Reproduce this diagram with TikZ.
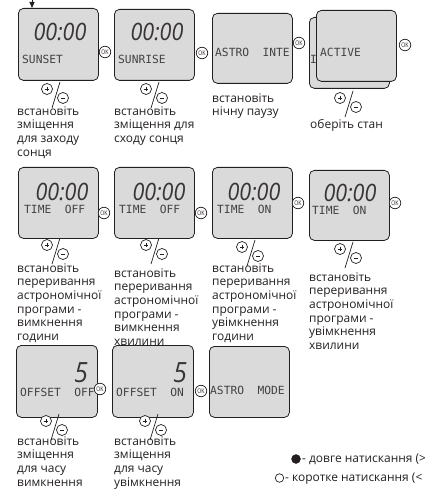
\documentclass[tikz,border=0pt]{standalone}
\usepackage{fontspec}
\setmainfont{Open Sans}
\newfontfamily\lcdfont{DejaVu Sans Mono}
\newfontfamily\clockfont[FakeStretch=0.9]{Open Sans}
\newfontfamily\okfont[FakeStretch=0.8]{Open Sans}
\usetikzlibrary{arrows.meta}
\definecolor{ink}{HTML}{231F20}
\definecolor{lcdbg}{HTML}{DADADA}
\tikzset{
  screen/.style={draw=ink, fill=lcdbg, rounded corners=5bp, line width=0.8bp,
    minimum width=80bp, minimum height=71bp, inner sep=0pt, anchor=north west},
  lcd/.style={font=\lcdfont\fontsize{11.3}{12}\selectfont, text=ink!85, inner sep=0pt, anchor=west,
    text height=8bp, text depth=0pt},
  clock/.style={font=\clockfont\itshape\fontsize{24}{24}\selectfont, text=ink!90, inner sep=0pt,
    text height=17bp, text depth=0pt},
  bigdigit/.style={font=\clockfont\itshape\fontsize{28}{28}\selectfont, text=ink!90, inner sep=0pt,
    text height=20bp, text depth=0pt},
  okbtn/.style={draw=ink, fill=white, circle, line width=0.7bp, minimum size=11.5bp, inner sep=0pt,
    font=\okfont\fontsize{6.4}{6.4}\selectfont, text=ink},
  lbl/.style={font=\fontsize{12}{13.6}\selectfont, text=ink, align=left, anchor=north west, inner sep=0pt},
  leg/.style={font=\fontsize{12}{13.6}\selectfont, text=ink, anchor=base west, inner sep=0pt},
  pmline/.style={draw=ink, line width=0.7bp},
  pm/.pic={
    \draw[pmline, fill=white] (0,0) circle (5.5);
    \draw[pmline] (-2.4,0) -- (2.4,0) (0,-2.4) -- (0,2.4);
    \draw[pmline, fill=white] (16,9) circle (5.5);
    \draw[pmline] (13.6,9) -- (18.4,9);
    \draw[pmline] (13,-7) -- (5,19);
  }
}
\begin{document}
\begin{tikzpicture}[x=1bp,y=-1bp]
\useasboundingbox (0,0) rectangle (424,492);
\clip (0,0) rectangle (424,492);

% ---------- row 1 ----------
\node[screen, minimum height=72bp] (A) at (18,8) {};
\node[clock] (Aclk) at (60,32) {00:00};
\node[lcd] (Atxt) at (22,60) {SUNSET};
\coordinate (top) at (32,-1);
\draw[ink, line width=0.8bp, -{Triangle[width=5bp,length=6bp]}] (top) -- (top |- A.north);
\node[okbtn] (ok1) at (105,52) {OK};
\pic at (47,89) {pm};
\node[lbl] (Alab) at (17,105.7) {\strut встановіть\\зміщення\\для заходу\\сонця};

\node[screen] (B) at (114,9) {};
\node[clock] (Bclk) at (157,32) {00:00};
\node[lcd] (Btxt) at (118,60) {SUNRISE};
\node[okbtn] (ok2) at (202,53) {OK};
\pic at (146,89) {pm};
\node[lbl] (Blab) at (114,105.7) {\strut встановіть\\зміщення для\\сходу сонця};

\node[screen, minimum height=70bp] (C) at (212,13) {};
\node[lcd] (Ctxt) at (215,53) {ASTRO\ \ INTE};
\node[okbtn] (ok3) at (299,43) {OK};
\node[lbl] (Clab) at (212,92.7) {\strut встановіть\\нічну паузу};

\node[screen] (Dback) at (309,17) {};
\node[lcd] (Dbtxt) at (310,60) {I};
\node[screen] (D) at (316,10) {};
\node[lcd] (Dtxt) at (320,53) {ACTIVE};
\node[okbtn] (ok4) at (405,45) {OK};
\pic at (340,98) {pm};
\node[lbl] (Dlab) at (310,118.7) {\strut оберіть стан};

% ---------- row 2 ----------
\node[screen] (E) at (18,167) {};
\node[clock] (Eclk) at (62,192) {00:00};
\node[lcd] (Etxt) at (24,209) {TIME\ \ OFF};
\node[okbtn] (ok5) at (104,213) {OK};
\pic at (47,245) {pm};
\node[lbl] (Elab) at (17,262.7) {\strut встановіть\\переривання\\астрономічної\\програми -\\вимкнення\\години};

\node[screen] (F) at (114,167) {};
\node[clock] (Fclk) at (159,192) {00:00};
\node[lcd] (Ftxt) at (119,209) {TIME\ \ OFF};
\node[okbtn] (ok6) at (201,213) {OK};
\pic at (146,245) {pm};
\node[lbl] (Flab) at (114,267.7) {\strut встановіть\\переривання\\астрономічної\\програми -\\вимкнення\\хвилини};

\node[screen] (G) at (212,167) {};
\node[clock] (Gclk) at (254,192) {00:00};
\node[lcd] (Gtxt) at (217,209) {TIME\ \ ON};
\node[okbtn] (ok7) at (298,203) {OK};
\pic at (242,247) {pm};
\node[lbl] (Glab) at (212,262.7) {\strut встановіть\\переривання\\астрономічної\\програми -\\увімкнення\\години};

\node[screen, minimum height=70bp] (H) at (309,170) {};
\node[clock] (Hclk) at (350,193) {00:00};
\node[lcd] (Htxt) at (312,210) {TIME\ \ ON};
\node[okbtn] (ok8) at (395,203) {OK};
\pic at (340,249) {pm};
\node[lbl] (Hlab) at (309,271.7) {\strut встановіть\\переривання\\астрономічної\\програми -\\увімкнення\\хвилини};

% ---------- row 3 ----------
\node[screen, minimum width=81bp, minimum height=72bp] (I) at (16,345) {};
\node[bigdigit] (Idig) at (81,372) {5};
\node[lcd] (Itxt) at (20,392) {OFFSET\ \ OFF};
\node[okbtn] (ok9) at (100,389) {OK};
\pic at (46,421) {pm};
\node[lbl] (Ilab) at (17,435.7) {\strut встановіть\\зміщення\\для часу\\вимкнення};

\node[screen, minimum width=81bp, minimum height=72bp] (J) at (112,345) {};
\node[bigdigit] (Jdig) at (180,372) {5};
\node[lcd] (Jtxt) at (116,392) {OFFSET\ \ ON};
\node[okbtn] (ok10) at (201,391) {OK};
\pic at (145,421) {pm};
\node[lbl] (Jlab) at (114,435.7) {\strut встановіть\\зміщення\\для часу\\увімкнення};

\node[screen] (K) at (209,346) {};
\node[lcd] (Ktxt) at (210,390) {ASTRO\ \ MODE};

% ---------- legend ----------
\node[circle, fill=ink, draw=ink, minimum size=9bp, inner sep=0pt] (longdot) at (296,459) {};
\node[leg] (longtxt) at (302,462.5) {- довге натискання (>};
\node[circle, fill=white, draw=ink, line width=0.7bp, minimum size=8.5bp, inner sep=0pt] (shortdot) at (279.5,478) {};
\node[leg] (shorttxt) at (285,481.5) {- коротке натискання (<};
\end{tikzpicture}
\end{document}
